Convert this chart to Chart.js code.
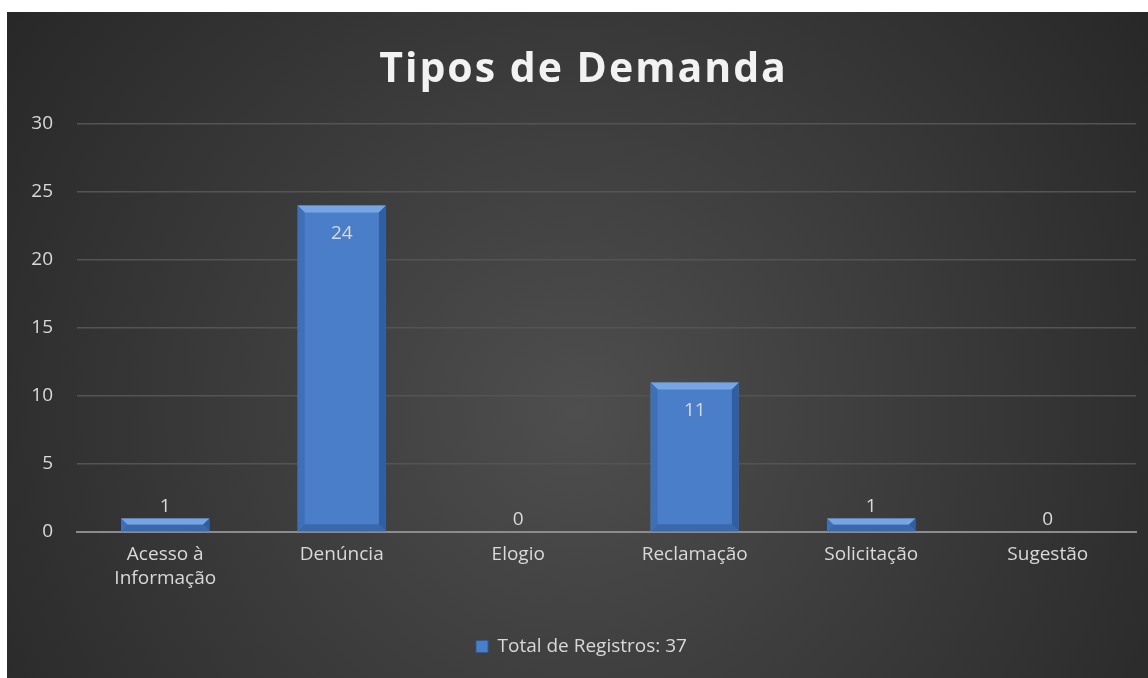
<!DOCTYPE html>
<html>
<head>
  <title>Tipos de Demanda</title>
  <script src="https://cdn.jsdelivr.net/npm/chart.js"></script>
  <style>
    body { margin: 0; background: #fff; }
    #wrap { position: absolute; left: 7px; top: 12px; width: 1141px; height: 666px; }
  </style>
</head>
<body>
  <div id="wrap"><canvas id="chart"></canvas></div>
  <script>
    const categories = [["Acesso à", "Informação"], "Denúncia", "Elogio", "Reclamação", "Solicitação", "Sugestão"];
    const totals = [1, 24, 0, 11, 1, 0];
    const seriesLabel = "Total de Registros: 37";
    const yTicks = [0, 5, 10, 15, 20, 25, 30];
    const chartTitle = "Tipos de Demanda";

    const FONT = "'Open Sans', Calibri, sans-serif";

    // dark radial backdrop like the Office style
    const backdrop = {
      id: "backdrop",
      beforeDraw(chart) {
        const { ctx, width, height } = chart;
        const g = ctx.createRadialGradient(width / 2, height * 0.6, 0, width / 2, height * 0.6, width * 0.62);
        g.addColorStop(0, "#4e4e4e");
        g.addColorStop(1, "#272727");
        ctx.save();
        ctx.fillStyle = g;
        ctx.fillRect(0, 0, width, height);
        ctx.restore();
      }
    };

    // bevelled edges on the bars + value labels
    const bevelAndLabels = {
      id: "bevelAndLabels",
      afterDatasetsDraw(chart) {
        const { ctx } = chart;
        const meta = chart.getDatasetMeta(0);
        meta.data.forEach((bar, i) => {
          const left = bar.x - bar.width / 2, right = bar.x + bar.width / 2;
          const top = bar.y, bottom = bar.base;
          const h = bottom - top;
          if (h > 0.5) {
            const b = Math.min(7, h / 2);
            ctx.save();
            ctx.fillStyle = "#77a5e3";
            ctx.beginPath();
            ctx.moveTo(left, top); ctx.lineTo(right, top);
            ctx.lineTo(right - b, top + b); ctx.lineTo(left + b, top + b);
            ctx.closePath(); ctx.fill();
            ctx.fillStyle = "#3e6fb7";
            ctx.beginPath();
            ctx.moveTo(left, top); ctx.lineTo(left + b, top + b);
            ctx.lineTo(left + b, bottom - b); ctx.lineTo(left, bottom);
            ctx.closePath(); ctx.fill();
            ctx.fillStyle = "#305ea3";
            ctx.beginPath();
            ctx.moveTo(right, top); ctx.lineTo(right - b, top + b);
            ctx.lineTo(right - b, bottom - b); ctx.lineTo(right, bottom);
            ctx.closePath(); ctx.fill();
            ctx.fillStyle = "#3a68ad";
            ctx.beginPath();
            ctx.moveTo(left, bottom); ctx.lineTo(left + b, bottom - b);
            ctx.lineTo(right - b, bottom - b); ctx.lineTo(right, bottom);
            ctx.closePath(); ctx.fill();
            ctx.restore();
          }
          ctx.save();
          ctx.fillStyle = "#d9d9d9";
          ctx.font = "19px " + FONT;
          ctx.textAlign = "center";
          ctx.textBaseline = "middle";
          const ty = h > 40 ? top + 28 : top - 12;
          ctx.fillText(String(totals[i]), bar.x, ty);
          ctx.restore();
        });
      }
    };

    // title with letter spacing (canvas letterSpacing)
    const spacedTitle = {
      id: "spacedTitle",
      afterDraw(chart) {
        const { ctx } = chart;
        const tb = chart.titleBlock;
        ctx.save();
        ctx.fillStyle = "#f2f2f2";
        ctx.font = "bold 41px " + FONT;
        if ("letterSpacing" in ctx) ctx.letterSpacing = "2px";
        ctx.textAlign = "center";
        ctx.textBaseline = "middle";
        ctx.fillText(chartTitle, (chart.chartArea.left + chart.chartArea.right) / 2 - 23, tb.top + tb.height / 2 + 2);
        ctx.restore();
      }
    };

    Chart.defaults.font.family = FONT;

    new Chart(document.getElementById("chart"), {
      type: "bar",
      data: {
        labels: categories,
        datasets: [{
          label: seriesLabel,
          data: totals,
          backgroundColor: "#4a7ec9",
          borderWidth: 0,
          barPercentage: 0.5,
          categoryPercentage: 1
        }]
      },
      options: {
        responsive: true,
        maintainAspectRatio: false,
        animation: false,
        layout: { padding: { left: 20, right: 12, top: 0, bottom: 12 } },
        plugins: {
          title: {
            display: true,
            text: chartTitle,
            color: "transparent",
            font: { size: 40, weight: "bold" },
            padding: { top: 31, bottom: 33 }
          },
          legend: {
            position: "bottom",
            labels: {
              color: "#d9d9d9",
              font: { size: 19 },
              boxWidth: 12,
              boxHeight: 12,
              padding: 10,
              generateLabels(chart) {
                return [{
                  text: seriesLabel,
                  fillStyle: "#4a7ec9",
                  strokeStyle: "#2d5a9e",
                  lineWidth: 1,
                  fontColor: "#d9d9d9",
                  datasetIndex: 0
                }];
              }
            }
          },
          tooltip: { enabled: false }
        },
        scales: {
          x: {
            afterFit(scale) { scale.height = 95; },
            grid: { display: false, drawTicks: false },
            border: { display: true, color: "#8c8c8c", width: 2 },
            ticks: { color: "#d9d9d9", font: { size: 19, lineHeight: 1.25 }, padding: 11, maxRotation: 0 }
          },
          y: {
            min: 0,
            max: 30,
            afterFit(scale) { scale.width = 50; },
            afterBuildTicks(scale) { scale.ticks = yTicks.map(v => ({ value: v })); },
            grid: {
              color: ctx => ctx.tick.value === 0 ? "transparent" : "#545454",
              lineWidth: 1.5,
              drawTicks: false
            },
            border: { display: false },
            ticks: { color: "#d9d9d9", font: { size: 19 }, padding: 24 }
          }
        }
      },
      plugins: [backdrop, bevelAndLabels, spacedTitle]
    });
  </script>
</body>
</html>
